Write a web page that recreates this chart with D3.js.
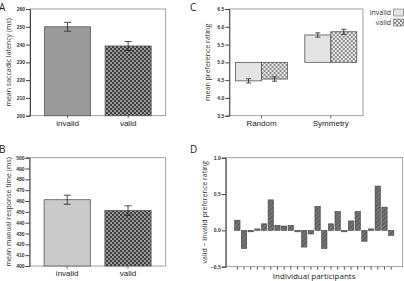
<!DOCTYPE html>
<html>
<head>
<meta charset="utf-8">
<script src="https://cdn.jsdelivr.net/npm/d3@7"></script>
<style>
  body { margin: 0; background: #fff; }
  svg { display: block; font-family: "Open Sans", sans-serif; }
  .tick text { font-size: 5px; font-weight: bold; fill: #333; }
  .cat .tick text { font-size: 8px; font-weight: normal; fill: #222; }
</style>
</head>
<body>
<div id="chart"></div>
<script>
// Datos
const conditions = ["invalid", "valid"];
const saccadeMeans = [250, 239.2];
const saccadeErr = [2.5, 2.5];
const manualMeans = [461.2, 451.2];
const manualErr = [4.2, 4.4];
const stimTypes = ["Random", "Symmetry"];
const prefInvalid = [4.48, 5.77];
const prefValid = [4.53, 5.86];
const prefErrInvalid = [0.06, 0.06];
const prefErrValid = [0.06, 0.07];
const participantDiffs = [0.14, -0.25, -0.02, 0.02, 0.09, 0.42, 0.07, 0.06, 0.07, -0.02, -0.23, -0.05,
                          0.33, -0.25, 0.09, 0.26, -0.02, 0.13, 0.26, -0.15, 0.02, 0.61, 0.32, -0.07];
const ticksA = [200, 210, 220, 230, 240, 250, 260];
const ticksB = [400, 410, 420, 430, 440, 450, 460, 470, 480, 490, 500];
const ticksC = [3.5, 4.0, 4.5, 5.0, 5.5, 6.0, 6.5];
const ticksD = [-0.5, 0.0, 0.5, 1.0];

const svg = d3.select("#chart").append("svg")
    .attr("width", 404)
    .attr("height", 281);

// Patrones de relleno
const defs = svg.append("defs");
function checker(id, dark, light) {
    const p = defs.append("pattern").attr("id", id)
        .attr("width", 4).attr("height", 4).attr("patternUnits", "userSpaceOnUse");
    p.append("rect").attr("width", 4).attr("height", 4).attr("fill", dark);
    p.append("rect").attr("width", 2).attr("height", 2).attr("fill", light);
    p.append("rect").attr("x", 2).attr("y", 2).attr("width", 2).attr("height", 2).attr("fill", light);
}
checker("chkDark", "#3c3c3c", "#9c9c9c");
checker("chkLight", "#8a8a8a", "#eeeeee");
const hatch = defs.append("pattern").attr("id", "hatch")
    .attr("width", 3).attr("height", 3).attr("patternUnits", "userSpaceOnUse")
    .attr("patternTransform", "rotate(45)");
hatch.append("rect").attr("width", 3).attr("height", 3).attr("fill", "#7a7a7a");
hatch.append("rect").attr("width", 1.2).attr("height", 3).attr("fill", "#555");

// Marco y eje y de cada panel
function panel(box, domain, ticks, fmt, label) {
    const y = d3.scaleLinear().domain(domain).range([box.y1, box.y0]);
    const g = svg.append("g");
    g.append("rect")
        .attr("x", box.x0).attr("y", box.y0)
        .attr("width", box.x1 - box.x0).attr("height", box.y1 - box.y0)
        .attr("fill", "none").attr("stroke", "#8a8a8a").attr("stroke-width", 0.8);
    g.append("g")
        .attr("transform", "translate(" + box.x0 + ",0)")
        .call(d3.axisLeft(y).tickValues(ticks).tickFormat(fmt).tickSize(4).tickPadding(1))
        .call(a => a.select(".domain").attr("stroke", "#444"))
        .call(a => a.selectAll(".tick line").attr("stroke", "#444"));
    g.append("text")
        .attr("transform", "translate(" + (box.x0 - 19) + "," + ((box.y0 + box.y1) / 2) + ") rotate(-90)")
        .attr("text-anchor", "middle")
        .style("font-size", "7px").style("fill", "#333")
        .text(label);
    return y;
}

function errorBar(g, cx, y, m, e, w) {
    g.append("line").attr("x1", cx).attr("x2", cx).attr("y1", y(m - e)).attr("y2", y(m + e))
        .attr("stroke", "#222").attr("stroke-width", 0.8);
    [m - e, m + e].forEach(v => {
        g.append("line").attr("x1", cx - w / 2).attr("x2", cx + w / 2).attr("y1", y(v)).attr("y2", y(v))
            .attr("stroke", "#222").attr("stroke-width", 0.8);
    });
}

function catAxis(x, yPos) {
    svg.append("g").attr("class", "cat")
        .attr("transform", "translate(0," + yPos + ")")
        .call(d3.axisBottom(x).tickSize(2.5).tickPadding(2))
        .call(a => a.select(".domain").remove())
        .call(a => a.selectAll(".tick line").attr("stroke", "#666"))
        .call(a => a.selectAll(".tick text").attr("fill", "#222"));
}

// Paneles A y B: barras simples
function simpleBars(box, domain, ticks, label, means, errs, fills) {
    const y = panel(box, domain, ticks, d3.format("d"), label);
    const x = d3.scaleBand().domain(conditions).range([box.x0, box.x1]).padding(0.24);
    const g = svg.append("g");
    g.selectAll("rect.bar").data(conditions).enter().append("rect")
        .attr("class", "bar")
        .attr("x", d => x(d))
        .attr("width", x.bandwidth())
        .attr("y", (d, i) => y(means[i]))
        .attr("height", (d, i) => y(domain[0]) - y(means[i]))
        .attr("fill", (d, i) => fills[i])
        .attr("stroke", "#555").attr("stroke-width", 0.8);
    conditions.forEach((d, i) => errorBar(g, x(d) + x.bandwidth() / 2, y, means[i], errs[i], 7));
    catAxis(x, box.y1);
}

simpleBars({ x0: 30, x1: 165.7, y0: 9, y1: 115.7 }, [200, 260], ticksA,
    "mean saccadic latency (ms)", saccadeMeans, saccadeErr, ["#9a9a9a", "url(#chkDark)"]);
simpleBars({ x0: 29.5, x1: 165.7, y0: 157.7, y1: 266 }, [400, 500], ticksB,
    "mean manual response time (ms)", manualMeans, manualErr, ["#cacaca", "url(#chkDark)"]);

// Panel C: barras agrupadas desde la linea base 5.0
const boxC = { x0: 229.3, x1: 363, y0: 9, y1: 115.7 };
const yC = panel(boxC, [3.5, 6.5], ticksC, d3.format(".1f"), "mean preference rating");
const x0C = d3.scaleBand().domain(stimTypes).range([boxC.x0, boxC.x1]).paddingInner(0.25).paddingOuter(0.09);
const x1C = d3.scaleBand().domain(conditions).range([0, x0C.bandwidth()]);
const prefData = stimTypes.map((s, i) => ({
    key: s,
    values: [
        { grp: "invalid", v: prefInvalid[i], e: prefErrInvalid[i] },
        { grp: "valid", v: prefValid[i], e: prefErrValid[i] }
    ]
}));
const fillC = { invalid: "#e4e4e4", valid: "url(#chkLight)" };
const gC = svg.append("g");
const slice = gC.selectAll(".slice").data(prefData).enter().append("g")
    .attr("transform", d => "translate(" + x0C(d.key) + ",0)");
slice.selectAll("rect").data(d => d.values).enter().append("rect")
    .attr("x", d => x1C(d.grp))
    .attr("width", x1C.bandwidth())
    .attr("y", d => yC(Math.max(5, d.v)))
    .attr("height", d => Math.abs(yC(d.v) - yC(5)))
    .attr("fill", d => fillC[d.grp])
    .attr("stroke", "#555").attr("stroke-width", 0.8);
prefData.forEach(d => d.values.forEach(v => {
    errorBar(gC, x0C(d.key) + x1C(v.grp) + x1C.bandwidth() / 2, yC, v.v, v.e, 5);
}));
catAxis(x0C, boxC.y1);

// Leyenda
const legend = svg.selectAll(".legend").data(conditions).enter().append("g")
    .attr("class", "legend")
    .attr("transform", (d, i) => "translate(0," + (i * 10) + ")");
legend.append("rect")
    .attr("x", 393.5).attr("y", 9)
    .attr("width", 10).attr("height", 7)
    .attr("fill", d => fillC[d])
    .attr("stroke", "#666").attr("stroke-width", 0.6);
legend.append("text")
    .attr("x", 391).attr("y", 12.5).attr("dy", ".35em")
    .attr("text-anchor", "end")
    .style("font-size", "7px").style("fill", "#333")
    .text(d => d);

// Panel D: diferencias por participante
const boxD = { x0: 225.7, x1: 402.7, y0: 157.7, y1: 266.7 };
const yD = panel(boxD, [-0.5, 1.0], ticksD, d3.format(".1f"), "valid \u2212 invalid preference rating");
const ids = participantDiffs.map((d, i) => i + 1);
const xD = d3.scaleBand().domain(ids).range([234, 394.5]).paddingInner(0.2).paddingOuter(0.1);
svg.append("g").selectAll("rect").data(participantDiffs).enter().append("rect")
    .attr("x", (d, i) => xD(ids[i]))
    .attr("width", xD.bandwidth())
    .attr("y", d => yD(Math.max(0, d)))
    .attr("height", d => Math.abs(yD(d) - yD(0)))
    .attr("fill", "url(#hatch)")
    .attr("stroke", "#444").attr("stroke-width", 0.6);
svg.append("g")
    .attr("transform", "translate(0," + boxD.y1 + ")")
    .call(d3.axisBottom(xD).tickSize(3).tickFormat(""))
    .call(a => a.select(".domain").remove())
    .call(a => a.selectAll(".tick line").attr("stroke", "#555"));
svg.append("text")
    .attr("x", (boxD.x0 + boxD.x1) / 2).attr("y", 278.5)
    .attr("text-anchor", "middle")
    .style("font-size", "8px").style("fill", "#222")
    .text("Individual participants");

// Letras de los paneles
const letters = [["A", -1, 11], ["B", -1, 153], ["C", 190, 11], ["D", 190, 153]];
svg.selectAll(".letter").data(letters).enter().append("text")
    .attr("x", d => d[1]).attr("y", d => d[2])
    .style("font-size", "10px").style("fill", "#222")
    .text(d => d[0]);
</script>
</body>
</html>
